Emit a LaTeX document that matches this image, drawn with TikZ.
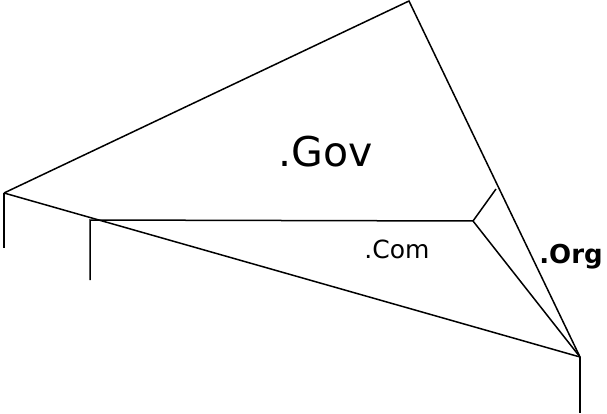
\documentclass[tikz,border=0pt]{standalone}
\usepackage{fontspec}
\setmainfont{DejaVu Sans}
\begin{document}
\begin{tikzpicture}[x=1pt,y=-1pt,line width=1.5pt,
  lbl/.style={inner sep=0pt,anchor=base}]
\useasboundingbox (0,0) rectangle (607,414);
\coordinate (top) at (409,1);
\coordinate (left) at (4,193);
\coordinate (leftfoot) at (4,248);
\coordinate (c) at (90,220);
\coordinate (cfoot) at (90,280);
\coordinate (j) at (473,221);
\coordinate (jtip) at (496,189);
\coordinate (bot) at (580,357);
\coordinate (botfoot) at (580,413);
\draw (left) -- (top) -- (bot);
\draw (left) -- (bot);
\draw (left) -- (leftfoot);
\draw (cfoot) -- (c) -- (j) -- (bot);
\draw (j) -- (jtip);
\draw (bot) -- (botfoot);
\node[lbl,font=\fontsize{41}{44}\selectfont] (gov) at (326,167) {.Gov};
\node[lbl,font=\fontsize{25}{28}\selectfont] (com) at (397,258) {.Com};
\node[lbl,font=\bfseries\fontsize{26}{30}\selectfont] (org) at (571,263) {.Org};
\end{tikzpicture}
\end{document}
